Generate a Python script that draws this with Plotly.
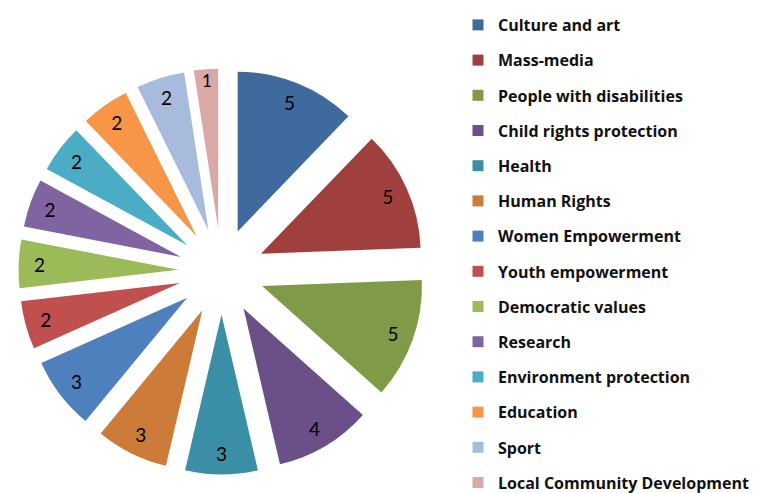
import plotly.graph_objects as go

categories = ["Culture and art", "Mass-media", "People with disabilities",
              "Child rights protection", "Health", "Human Rights",
              "Women Empowerment", "Youth empowerment", "Democratic values",
              "Research", "Environment protection", "Education", "Sport",
              "Local Community Development"]
values = [5, 5, 5, 4, 3, 3, 3, 2, 2, 2, 2, 2, 2, 1]
colors = ["#3F6A9E", "#A0403E", "#7F9B47", "#6A4F88", "#3A8EA5", "#CC7B38",
          "#4E80BE", "#C0504D", "#9BBB59", "#8064A2", "#4BACC6", "#F79646",
          "#A8BBDC", "#DBA8A8"]

W, H = 763, 493
OFF = 8  # page body margin offset in the browser

# pie centre (screen px) and half extent
cx, cy, half = 221.5 - OFF, 271.5 - OFF, 203
dom = dict(x=[(cx - half) / W, (cx + half) / W],
           y=[(H - (cy + half)) / H, (H - (cy - half)) / H])
PULL = 0.27

fig = go.Figure()
# coloured slices
fig.add_trace(go.Pie(
    labels=categories, values=values, sort=False, direction="clockwise",
    rotation=0, pull=[PULL] * len(values),
    marker=dict(colors=colors, line=dict(width=0)),
    textinfo="none", showlegend=False, domain=dom,
    hoverinfo="label+value",
))
# value labels placed in the outer ring of each slice
fig.add_trace(go.Pie(
    labels=categories, values=values, sort=False, direction="clockwise",
    rotation=0, pull=[PULL] * len(values), hole=0.74,
    marker=dict(colors=["rgba(0,0,0,0)"] * len(values), line=dict(width=0)),
    textinfo="value", textposition="inside", insidetextorientation="horizontal",
    textfont=dict(family="Lato", size=19, color="black"),
    showlegend=False, domain=dom, hoverinfo="skip",
))

for i, (c, col) in enumerate(zip(categories, colors)):
    fig.add_trace(go.Scatter(
        x=[None], y=[None], mode="markers", name=c, legendgroup=f"g{i}",
        marker=dict(symbol="square", size=11, color=col),
    ))

fig.update_layout(
    width=W, height=H, margin=dict(l=0, r=0, t=0, b=0),
    paper_bgcolor="white", plot_bgcolor="white",
    xaxis=dict(visible=False), yaxis=dict(visible=False),
    legend=dict(x=(458 - OFF) / W, xanchor="left", y=1, yanchor="top",
                traceorder="grouped", tracegroupgap=11.4,
                font=dict(family="Open Sans", size=16, color="#111111", weight="bold"),
                bgcolor="rgba(0,0,0,0)"),
    showlegend=True,
)

fig.write_html("out.html")
